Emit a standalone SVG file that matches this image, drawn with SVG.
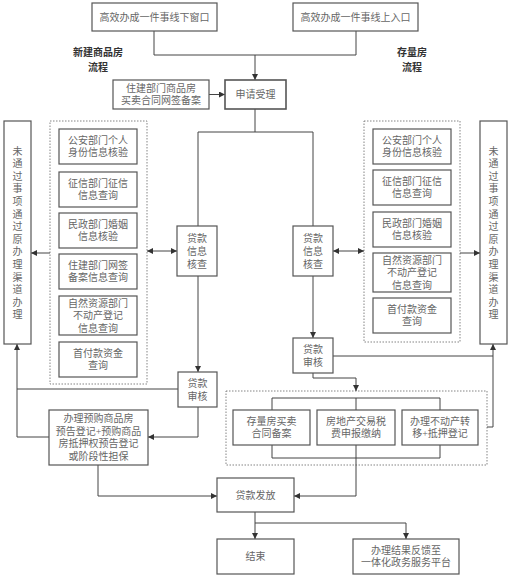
<svg xmlns="http://www.w3.org/2000/svg" width="511" height="578" viewBox="0 0 511 578">
<style>
.b{fill:#fff;stroke:#555;stroke-width:1.2}
.bt{fill:#fff;stroke:#555;stroke-width:1.6}
.d{fill:none;stroke:#777;stroke-width:0.9;stroke-dasharray:1.5,1.5}
.t{font-family:"Liberation Serif","Noto Sans CJK SC",serif;font-size:10px;fill:#666;text-anchor:middle;dominant-baseline:central}
.h{font-family:"Noto Sans CJK SC",sans-serif;font-size:10px;fill:#333;font-weight:bold;text-anchor:middle;dominant-baseline:central}
.c path{fill:none;stroke:#444;stroke-width:1}
.a{marker-end:url(#ar)}
.aa{marker-end:url(#ar);marker-start:url(#ar)}
</style>
<defs>
<marker id="ar" viewBox="0 0 10 10" refX="10" refY="5" markerWidth="7" markerHeight="6" markerUnits="userSpaceOnUse" orient="auto-start-reverse">
<path d="M0,0 L10,5 L0,10 Z" fill="#333"/>
</marker>
</defs>
<rect width="511" height="578" fill="#fff"/>

<g id="labels">
<text class="h" x="98" y="51.5">新建商品房</text>
<text class="h" x="98" y="66.5">流程</text>
<text class="h" x="412" y="51.5">存量房</text>
<text class="h" x="412" y="66.5">流程</text>
</g>

<g id="dotted">
<rect class="d" x="50" y="121" width="97" height="263"/>
<rect class="d" x="364" y="121" width="96" height="221"/>
<rect class="d" x="226" y="391" width="261" height="74"/>
</g>

<g class="c" id="connectors">
<path d="M154,31 V55 H356 V31"/>
<path class="a" d="M255,55 V80"/>
<path class="a" d="M209,94.5 H225"/>
<path d="M255,109 V132 M198,226 V132 H313 V226"/>
<path class="aa" d="M147,251 H177"/>
<path class="aa" d="M333,251 H364"/>
<path class="a" d="M50,253 H31"/>
<path class="a" d="M460,253 H480"/>
<path class="a" d="M198,276 V372"/>
<path d="M178,389 H17"/>
<path class="a" d="M49,437 H17 V344"/>
<path class="a" d="M198,407 V437 H148"/>
<path class="a" d="M98,465 V496 H217"/>
<path class="a" d="M313,276 V338"/>
<path class="a" d="M333,356 H493 V344"/>
<path d="M487,427 H493 V356"/>
<path class="a" d="M313,373 V378 H356 V391"/>
<path d="M272,410 V398 H440 V410 M356,398 V410"/>
<path d="M272,445 V458 H440 V445 M356,445 V458"/>
<path class="a" d="M356,458 V496 H294"/>
<path class="a" d="M255,512 V539"/>
<path class="a" d="M255,523 H406 V539"/>
</g>

<g id="n-offline"><rect class="b" x="92" y="3" width="125" height="28"/><text class="t" x="154.5" y="17">高效办成一件事线下窗口</text></g>
<g id="n-online"><rect class="b" x="293" y="3" width="125" height="28"/><text class="t" x="355.5" y="17">高效办成一件事线上入口</text></g>
<g id="n-wangqian"><rect class="b" x="113" y="80" width="96" height="29"/><text class="t" x="161" y="88.5">住建部门商品房</text><text class="t" x="161" y="100.5">买卖合同网签备案</text></g>
<g id="n-apply"><rect class="bt" x="225" y="80" width="61" height="29"/><text class="t" x="255.5" y="94.5">申请受理</text></g>

<g id="n-left-fail"><rect class="b" x="4" y="121" width="27" height="223"/>
<text class="t" x="17.5" y="151">未</text><text class="t" x="17.5" y="163.6">通</text><text class="t" x="17.5" y="176.2">过</text><text class="t" x="17.5" y="188.8">事</text><text class="t" x="17.5" y="201.4">项</text><text class="t" x="17.5" y="214">通</text><text class="t" x="17.5" y="226.6">过</text><text class="t" x="17.5" y="239.2">原</text><text class="t" x="17.5" y="251.8">办</text><text class="t" x="17.5" y="264.4">理</text><text class="t" x="17.5" y="277">渠</text><text class="t" x="17.5" y="289.6">道</text><text class="t" x="17.5" y="302.2">办</text><text class="t" x="17.5" y="314.8">理</text></g>
<g id="n-right-fail"><rect class="b" x="480" y="121" width="27" height="223"/>
<text class="t" x="493.5" y="151">未</text><text class="t" x="493.5" y="163.6">通</text><text class="t" x="493.5" y="176.2">过</text><text class="t" x="493.5" y="188.8">事</text><text class="t" x="493.5" y="201.4">项</text><text class="t" x="493.5" y="214">通</text><text class="t" x="493.5" y="226.6">过</text><text class="t" x="493.5" y="239.2">原</text><text class="t" x="493.5" y="251.8">办</text><text class="t" x="493.5" y="264.4">理</text><text class="t" x="493.5" y="277">渠</text><text class="t" x="493.5" y="289.6">道</text><text class="t" x="493.5" y="302.2">办</text><text class="t" x="493.5" y="314.8">理</text></g>

<g id="n-l1"><rect class="b" x="59" y="129" width="78" height="35"/><text class="t" x="98" y="140.5">公安部门个人</text><text class="t" x="98" y="152.5">身份信息核验</text></g>
<g id="n-l2"><rect class="b" x="59" y="172" width="78" height="35"/><text class="t" x="98" y="183.5">征信部门征信</text><text class="t" x="98" y="195.5">信息查询</text></g>
<g id="n-l3"><rect class="b" x="59" y="213" width="78" height="35"/><text class="t" x="98" y="224.5">民政部门婚姻</text><text class="t" x="98" y="236.5">信息核验</text></g>
<g id="n-l4"><rect class="b" x="59" y="254" width="78" height="35"/><text class="t" x="98" y="265.5">住建部门网签</text><text class="t" x="98" y="277.5">备案信息查询</text></g>
<g id="n-l5"><rect class="b" x="59" y="296" width="78" height="39"/><text class="t" x="98" y="303">自然资源部门</text><text class="t" x="98" y="315.5">不动产登记</text><text class="t" x="98" y="328">信息查询</text></g>
<g id="n-l6"><rect class="b" x="59" y="342" width="78" height="35"/><text class="t" x="98" y="353.5">首付款资金</text><text class="t" x="98" y="365.5">查询</text></g>

<g id="n-r1"><rect class="b" x="373" y="129" width="78" height="35"/><text class="t" x="412" y="140.5">公安部门个人</text><text class="t" x="412" y="152.5">身份信息核验</text></g>
<g id="n-r2"><rect class="b" x="373" y="170" width="78" height="35"/><text class="t" x="412" y="181.5">征信部门征信</text><text class="t" x="412" y="193.5">信息查询</text></g>
<g id="n-r3"><rect class="b" x="373" y="212" width="78" height="35"/><text class="t" x="412" y="223.5">民政部门婚姻</text><text class="t" x="412" y="235.5">信息核验</text></g>
<g id="n-r4"><rect class="b" x="373" y="253" width="78" height="39"/><text class="t" x="412" y="260">自然资源部门</text><text class="t" x="412" y="272.5">不动产登记</text><text class="t" x="412" y="285">信息查询</text></g>
<g id="n-r5"><rect class="b" x="373" y="298" width="78" height="35"/><text class="t" x="412" y="309.5">首付款资金</text><text class="t" x="412" y="321.5">查询</text></g>

<g id="n-lcheck"><rect class="b" x="177" y="226" width="40" height="50"/><text class="t" x="197" y="238">贷款</text><text class="t" x="197" y="251">信息</text><text class="t" x="197" y="264">核查</text></g>
<g id="n-rcheck"><rect class="b" x="293" y="226" width="40" height="50"/><text class="t" x="313" y="238">贷款</text><text class="t" x="313" y="251">信息</text><text class="t" x="313" y="264">核查</text></g>
<g id="n-laudit"><rect class="b" x="178" y="372" width="39" height="35"/><text class="t" x="197.5" y="383">贷款</text><text class="t" x="197.5" y="396">审核</text></g>
<g id="n-raudit"><rect class="b" x="293" y="338" width="40" height="35"/><text class="t" x="313" y="349">贷款</text><text class="t" x="313" y="362">审核</text></g>

<g id="n-yugou"><rect class="b" x="49" y="410" width="99" height="55"/><text class="t" x="98.5" y="418.5">办理预购商品房</text><text class="t" x="98.5" y="431">预告登记+预购商品</text><text class="t" x="98.5" y="443.5">房抵押权预告登记</text><text class="t" x="98.5" y="456">或阶段性担保</text></g>

<g id="n-b1"><rect class="b" x="233" y="410" width="77" height="35"/><text class="t" x="271.5" y="421.5">存量房买卖</text><text class="t" x="271.5" y="433.5">合同备案</text></g>
<g id="n-b2"><rect class="b" x="317" y="410" width="78" height="35"/><text class="t" x="356" y="421.5">房地产交易税</text><text class="t" x="356" y="433.5">费申报缴纳</text></g>
<g id="n-b3"><rect class="b" x="402" y="410" width="76" height="35"/><text class="t" x="440" y="421.5">办理不动产转</text><text class="t" x="440" y="433.5">移+抵押登记</text></g>

<g id="n-fafang"><rect class="b" x="217" y="478" width="77" height="34"/><text class="t" x="255.5" y="495">贷款发放</text></g>
<g id="n-end"><rect class="b" x="217" y="539" width="77" height="35"/><text class="t" x="255.5" y="556.5">结束</text></g>
<g id="n-feedback"><rect class="b" x="353" y="539" width="106" height="35"/><text class="t" x="406" y="550.5">办理结果反馈至</text><text class="t" x="406" y="562.5">一体化政务服务平台</text></g>
</svg>
